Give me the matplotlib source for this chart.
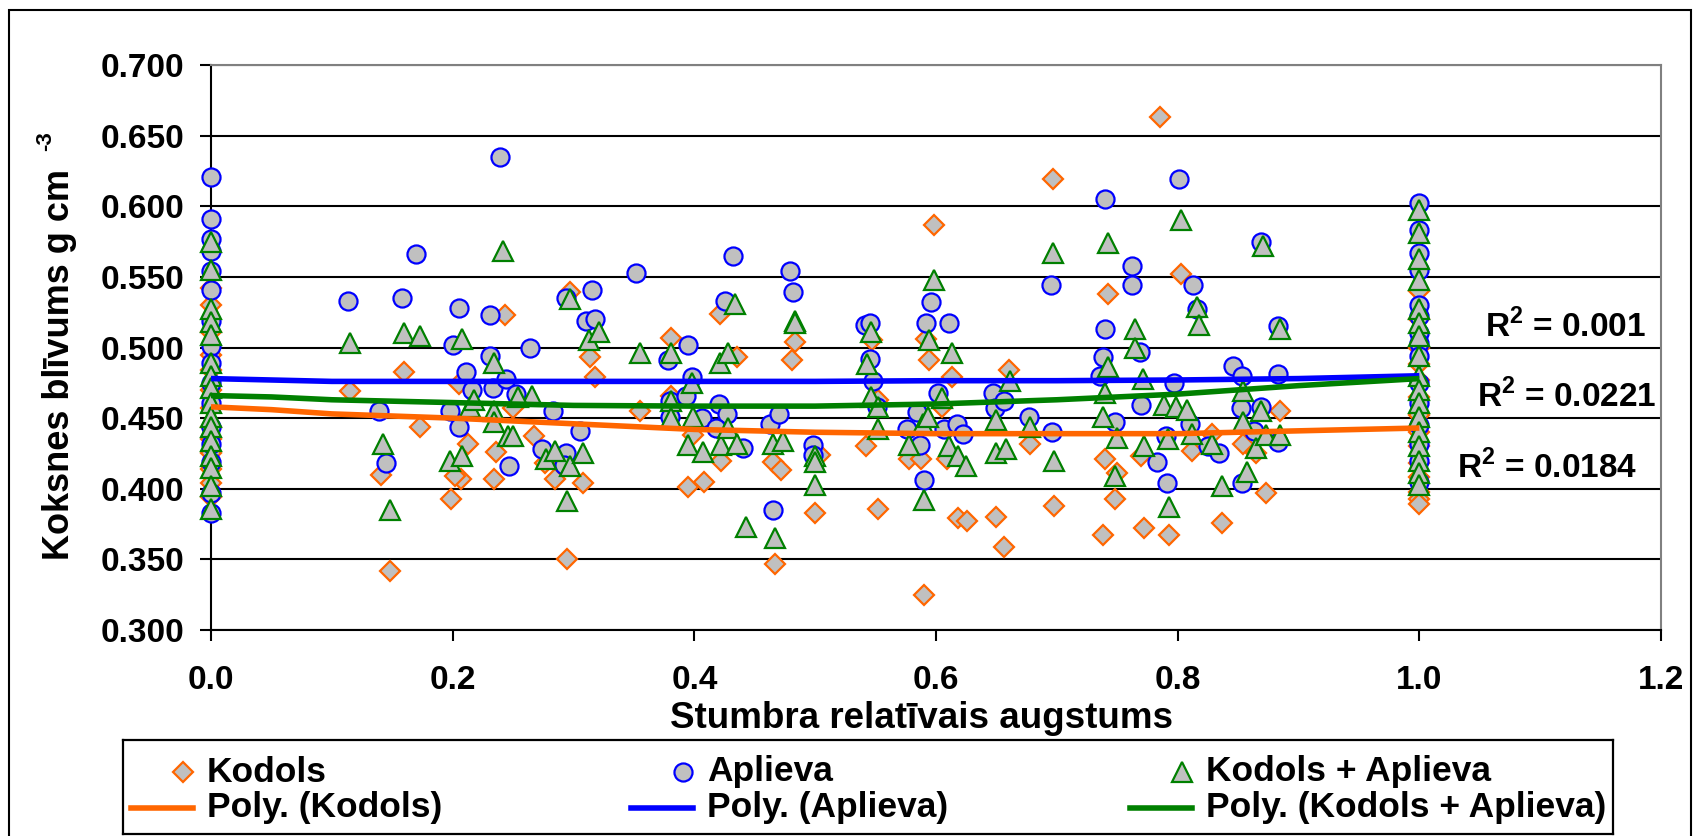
import numpy as np
import matplotlib
matplotlib.use('Agg')
import matplotlib.pyplot as plt
from matplotlib.patches import Rectangle

plt.rcParams['font.family'] = ['Liberation Sans', 'DejaVu Sans']
plt.rcParams['font.weight'] = 'bold'
plt.rcParams['mathtext.fontset'] = 'custom'
plt.rcParams['mathtext.rm'] = 'Liberation Sans:bold'
plt.rcParams['mathtext.bf'] = 'Liberation Sans:bold'

# --- data --------------------------------------------------------------
# Kodols (heartwood)
kod_y0 = [0.542, 0.530, 0.511, 0.495, 0.484, 0.470, 0.457, 0.444, 0.435,
          0.425, 0.414, 0.404, 0.394]
kod_x = [0.115, 0.160, 0.173, 0.243, 0.297, 0.314, 0.318, 0.141, 0.148, 0.199,
         0.207, 0.202, 0.213, 0.236, 0.234, 0.267, 0.285, 0.308, 0.295, 0.250,
         0.205, 0.276,
         0.598, 0.421, 0.381, 0.483, 0.481, 0.435, 0.592, 0.594, 0.547, 0.613,
         0.355, 0.381, 0.399, 0.395, 0.408, 0.422, 0.465, 0.472, 0.500, 0.504,
         0.542, 0.552, 0.552, 0.578, 0.588, 0.605, 0.609, 0.590, 0.618, 0.626,
         0.650, 0.656, 0.467,
         0.785, 0.697, 0.742, 0.803, 0.660, 0.885, 0.740, 0.678, 0.750, 0.770,
         0.812, 0.828, 0.854, 0.865, 0.748, 0.698, 0.738, 0.772, 0.793, 0.837,
         0.873]
kod_y = [0.469, 0.483, 0.444, 0.523, 0.539, 0.493, 0.479, 0.410, 0.342, 0.393,
         0.407, 0.409, 0.432, 0.426, 0.407, 0.437, 0.407, 0.404, 0.350, 0.457,
         0.474, 0.418,
         0.587, 0.524, 0.507, 0.504, 0.491, 0.493, 0.506, 0.491, 0.505, 0.479,
         0.455, 0.466, 0.438, 0.401, 0.405, 0.420, 0.419, 0.413, 0.383, 0.424,
         0.430, 0.463, 0.386, 0.421, 0.421, 0.458, 0.421, 0.325, 0.379, 0.377,
         0.380, 0.359, 0.347,
         0.663, 0.619, 0.538, 0.552, 0.484, 0.455, 0.421, 0.432, 0.411, 0.423,
         0.427, 0.439, 0.432, 0.425, 0.393, 0.388, 0.367, 0.372, 0.367, 0.376,
         0.397]
kod_y1 = [0.540, 0.520, 0.500, 0.488, 0.477, 0.465, 0.452, 0.440, 0.430,
          0.418, 0.408, 0.398, 0.393, 0.389]

# Aplieva (sapwood)
apl_y0 = [0.621, 0.591, 0.577, 0.568, 0.554, 0.541, 0.519, 0.501, 0.489,
          0.475, 0.461, 0.444, 0.432, 0.419, 0.397, 0.383]
apl_x = [0.239, 0.170, 0.113, 0.158, 0.205, 0.231, 0.294, 0.315, 0.310, 0.318,
         0.200, 0.264, 0.231, 0.211, 0.216, 0.233, 0.244, 0.252, 0.283, 0.139,
         0.198, 0.205, 0.305, 0.145, 0.247, 0.274, 0.294, 0.292,
         0.352, 0.432, 0.425, 0.479, 0.482, 0.395, 0.378, 0.398, 0.541, 0.545,
         0.545, 0.548, 0.592, 0.596, 0.611, 0.602, 0.647, 0.649, 0.380, 0.393,
         0.420, 0.427, 0.380, 0.406, 0.418, 0.440, 0.463, 0.470, 0.498, 0.498,
         0.551, 0.576, 0.587, 0.584, 0.607, 0.617, 0.622, 0.590, 0.465,
         0.801, 0.740, 0.762, 0.762, 0.813, 0.816, 0.695, 0.869, 0.883, 0.740,
         0.738, 0.769, 0.736, 0.846, 0.853, 0.883, 0.797, 0.656, 0.677, 0.696,
         0.748, 0.770, 0.810, 0.790, 0.825, 0.834, 0.852, 0.869, 0.863, 0.883,
         0.783, 0.791, 0.853]
apl_y = [0.635, 0.566, 0.533, 0.535, 0.528, 0.523, 0.535, 0.541, 0.519, 0.520,
         0.502, 0.500, 0.494, 0.483, 0.470, 0.471, 0.478, 0.467, 0.455, 0.455,
         0.455, 0.444, 0.441, 0.418, 0.416, 0.428, 0.425, 0.417,
         0.553, 0.565, 0.533, 0.554, 0.539, 0.502, 0.491, 0.479, 0.516, 0.517,
         0.492, 0.476, 0.517, 0.532, 0.517, 0.468, 0.468, 0.457, 0.462, 0.466,
         0.460, 0.453, 0.451, 0.450, 0.443, 0.429, 0.446, 0.453, 0.431, 0.424,
         0.458, 0.442, 0.431, 0.454, 0.442, 0.446, 0.439, 0.406, 0.385,
         0.619, 0.605, 0.558, 0.544, 0.544, 0.527, 0.544, 0.575, 0.515, 0.513,
         0.493, 0.497, 0.480, 0.487, 0.480, 0.481, 0.475, 0.462, 0.451, 0.440,
         0.447, 0.459, 0.446, 0.437, 0.430, 0.425, 0.457, 0.458, 0.441, 0.433,
         0.419, 0.404, 0.404]
apl_y1 = [0.602, 0.583, 0.567, 0.555, 0.530, 0.522, 0.510, 0.503, 0.494,
          0.475, 0.461, 0.445, 0.432, 0.420, 0.405]

# Kodols + Aplieva
ka_y0 = [0.575, 0.555, 0.527, 0.518, 0.509, 0.489, 0.480, 0.471, 0.461,
         0.451, 0.444, 0.434, 0.423, 0.415, 0.402, 0.386]
ka_x = [0.242, 0.115, 0.160, 0.173, 0.208, 0.234, 0.297, 0.313, 0.321, 0.142,
        0.148, 0.198, 0.208, 0.214, 0.218, 0.234, 0.234, 0.246, 0.250, 0.266,
        0.254, 0.277, 0.285, 0.297, 0.308, 0.295,
        0.598, 0.434, 0.483, 0.483, 0.355, 0.381, 0.421, 0.428, 0.546, 0.543,
        0.594, 0.613, 0.398, 0.381, 0.381, 0.399, 0.395, 0.407, 0.422, 0.428,
        0.435, 0.465, 0.473, 0.500, 0.500, 0.500, 0.443, 0.467, 0.546, 0.552,
        0.552, 0.589, 0.593, 0.578, 0.605, 0.611, 0.618, 0.625, 0.590, 0.650,
        0.650,
        0.803, 0.742, 0.697, 0.871, 0.765, 0.765, 0.816, 0.818, 0.885, 0.661,
        0.742, 0.740, 0.771, 0.789, 0.799, 0.808, 0.854, 0.869, 0.678, 0.738,
        0.750, 0.772, 0.792, 0.812, 0.828, 0.854, 0.865, 0.873, 0.885, 0.658,
        0.698, 0.748, 0.857, 0.837, 0.793]
ka_y = [0.568, 0.503, 0.510, 0.508, 0.506, 0.489, 0.534, 0.505, 0.511, 0.432,
        0.385, 0.420, 0.423, 0.458, 0.463, 0.455, 0.447, 0.437, 0.437, 0.466,
        0.465, 0.421, 0.427, 0.416, 0.425, 0.391,
        0.548, 0.531, 0.519, 0.517, 0.496, 0.496, 0.489, 0.496, 0.511, 0.488,
        0.505, 0.496, 0.475, 0.462, 0.450, 0.451, 0.431, 0.426, 0.431, 0.443,
        0.432, 0.432, 0.434, 0.423, 0.419, 0.403, 0.373, 0.365, 0.465, 0.458,
        0.442, 0.446, 0.451, 0.431, 0.464, 0.430, 0.423, 0.416, 0.392, 0.449,
        0.425,
        0.590, 0.574, 0.567, 0.572, 0.513, 0.500, 0.529, 0.516, 0.513, 0.476,
        0.486, 0.468, 0.478, 0.459, 0.458, 0.456, 0.469, 0.455, 0.444, 0.451,
        0.436, 0.430, 0.435, 0.439, 0.432, 0.447, 0.429, 0.438, 0.438, 0.428,
        0.420, 0.409, 0.412, 0.402, 0.387]
ka_y1 = [0.597, 0.581, 0.563, 0.548, 0.527, 0.517, 0.508, 0.494, 0.480,
         0.470, 0.461, 0.451, 0.440, 0.430, 0.420, 0.411, 0.403]

# polynomial trendlines as drawn in the chart (read at these heights)
trend_x = [0.0, 0.05, 0.1, 0.2, 0.3, 0.4, 0.5, 0.6, 0.7, 0.8, 0.9, 1.0]
trend_kod = [0.458, 0.456, 0.453, 0.450, 0.446, 0.442, 0.440, 0.439, 0.439,
             0.439, 0.441, 0.443]
trend_apl = [0.478, 0.477, 0.476, 0.476, 0.476, 0.476, 0.476, 0.4765, 0.4765,
             0.477, 0.478, 0.480]
trend_ka = [0.466, 0.465, 0.463, 0.461, 0.459, 0.4585, 0.4585, 0.460, 0.463,
            0.467, 0.473, 0.478]

r2_labels = ['0.001', '0.0221', '0.0184']
yticks = np.arange(0.30, 0.701, 0.05)
xticks = np.arange(0.0, 1.21, 0.2)

GRAY = '#C0C0C0'
ORANGE = '#FF6600'
BLUE = '#0000FF'
GREEN = '#008000'


def full(y0, x, y, y1):
    xx = np.concatenate([np.zeros(len(y0)), x, np.ones(len(y1))])
    yy = np.concatenate([y0, y, y1])
    return xx, yy


W, H = 1700, 836
fig = plt.figure(figsize=(17, 8.36), dpi=100)
ax = fig.add_axes([211 / W, 1 - 630 / H, 1450 / W, 565 / H])

series = [
    ('Kodols', full(kod_y0, kod_x, kod_y, kod_y1), trend_kod, 'D', 10, ORANGE),
    ('Aplieva', full(apl_y0, apl_x, apl_y, apl_y1), trend_apl, 'o', 13, BLUE),
    ('Kodols + Aplieva', full(ka_y0, ka_x, ka_y, ka_y1), trend_ka, '^', 14, GREEN),
]
for name, (xx, yy), tr, m, ms, c in series:
    ax.plot(xx, yy, ls='none', marker=m, ms=ms, mfc=GRAY, mec=c, mew=1.6,
            clip_on=False, zorder=3)

for name, _, tr, m, ms, c in series:
    ax.plot(trend_x, tr, color=c, lw=4, zorder=4, solid_capstyle='butt')

ax.set_xlim(0, 1.2)
ax.set_ylim(0.3, 0.7)
ax.set_yticks(yticks)
ax.set_xticks(xticks)
ax.set_yticklabels(['%.3f' % v for v in yticks])
ax.set_xticklabels(['%.1f' % v for v in xticks])
ax.tick_params(axis='y', direction='out', length=8, width=1.5, pad=11,
               labelsize=24)
ax.tick_params(axis='x', direction='out', length=8, width=1.5, pad=17,
               labelsize=24)
ax.yaxis.grid(True, color='black', lw=1.5)
ax.set_axisbelow(True)
ax.spines['left'].set_color('black')
ax.spines['bottom'].set_color('black')
ax.spines['top'].set_color('#808080')
ax.spines['right'].set_color('#808080')
for s in ax.spines.values():
    s.set_linewidth(1.5)

# R^2 labels
for lab, (tx, ty) in zip(r2_labels, [(1.054, 0.515), (1.048, 0.465), (1.031, 0.415)]):
    ax.text(tx, ty, r'R$^{\mathbf{2}}$ = ' + lab, fontsize=24, fontweight='bold',
            ha='left', va='center', clip_on=False)

# axis titles
fig.text(60 / W, 1 - 364 / H, 'Koksnes blīvums g cm', rotation=90,
         ha='center', va='center', fontsize=26, fontweight='bold')
fig.text(46 / W, 1 - 141 / H, '-3', rotation=90, ha='center', va='center',
         fontsize=16, fontweight='bold')
fig.text(921 / W, 1 - 718 / H, 'Stumbra relatīvais augstums', ha='center',
         va='center', fontsize=26.5, fontweight='bold')

# legend box
lax = fig.add_axes([123 / W, 1 - 834 / H, 1490 / W, 94 / H])
lax.set_xlim(0, 1490)
lax.set_ylim(94, 0)
lax.set_xticks([])
lax.set_yticks([])
for s in lax.spines.values():
    s.set_linewidth(1.6)
    s.set_color('black')
cols = [60, 560, 1059]
for (name, _, tr, m, ms, c), cx in zip(series, cols):
    lax.plot([cx], [32], ls='none', marker=m, ms=ms, mfc=GRAY, mec=c, mew=1.6)
    lax.plot([cx - 52, cx + 10], [68, 68], color=c, lw=4)
    lax.text(cx + 24, 32, name, fontsize=25.5, fontweight='bold', va='center')
    lax.text(cx + 24, 68, 'Poly. (%s)' % name, fontsize=25.5, fontweight='bold',
             va='center')

# outer chart border
fig.patches.append(Rectangle((9 / W, -0.02), 1682 / W, 1 - 10 / H + 0.02,
                             transform=fig.transFigure, fill=False,
                             ec='black', lw=1.5))

fig.savefig('out.png', dpi=100)
